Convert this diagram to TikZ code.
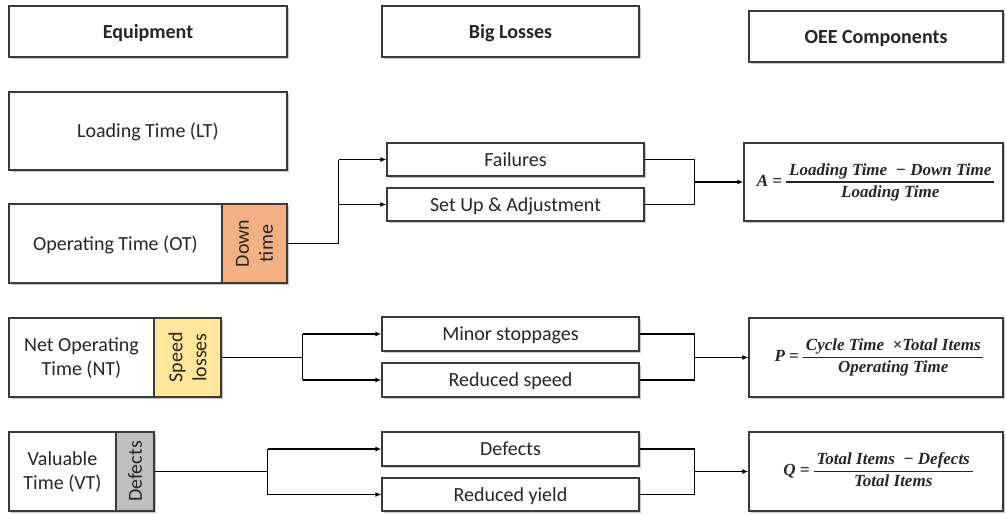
\documentclass[tikz,border=0pt]{standalone}
\usepackage{fontspec}
\setmainfont{Carlito}
\newfontfamily\eqfont{Liberation Serif}
\usetikzlibrary{arrows.meta,shadows}
\setlength{\arrayrulewidth}{1.1pt}

\definecolor{txt}{HTML}{262626}
\definecolor{edge}{HTML}{3A3A3A}
\definecolor{downfill}{HTML}{F4B183}
\definecolor{speedfill}{HTML}{FFE699}
\definecolor{defectfill}{HTML}{BFBFBF}

\begin{document}
\begin{tikzpicture}[x=1pt,y=-1pt,
  every node/.style={font=\fontsize{20}{24}\selectfont, text=txt},
  box/.style={draw=edge, line width=1.4pt, fill=white, inner sep=0pt, align=center,
    drop shadow={shadow xshift=1.8pt, shadow yshift=-1.8pt, opacity=0.22, fill=black}},
  size/.style 2 args={minimum width=#1pt, minimum height=#2pt},
  one/.style={text height=13pt, text depth=0pt},
  head/.style={box, one, font=\bfseries\fontsize{20}{24}\selectfont},
  vlabel/.style={rotate=90, align=center, inner sep=0pt},
  eq/.style={font=\eqfont\bfseries\itshape\fontsize{17}{21}\selectfont, inner sep=0pt},
  conn/.style={draw=black, line width=1.2pt},
  arr/.style={conn, -{Latex[length=6pt,width=5pt]}}
]
\useasboundingbox (0,0) rectangle (1006,514);

% column headers
\node[head, size={278}{51}] (hEq)  at (148,31.5)   {Equipment};
\node[head, size={257}{51}] (hBL)  at (510.5,31.5) {Big Losses};
\node[head, size={254}{51}] (hOEE) at (876,36.5)   {OEE Components};

% equipment time blocks
\node[box, one, size={278}{78}] (LT) at (148,131) {Loading Time (LT)};

\node[box, one, size={213}{79}] (OT) at (115.5,243.5) {Operating Time (OT)};
\node[box, fill=downfill, size={65}{79}] (DT) at (254.5,243.5) {};
\node[vlabel] (DTl) at (DT.center) {Down\\time};

\node[box, size={145}{79}] (NT) at (81.5,357.5) {Net Operating\\Time (NT)};
\node[box, fill=speedfill, size={67}{79}] (SL) at (187.5,357.5) {};
\node[vlabel] (SLl) at (SL.center) {Speed\\losses};

\node[box, size={107}{79}] (VT) at (62.5,471.5) {Valuable\\Time (VT)};
\node[box, fill=defectfill, size={38}{79}] (DF) at (135,471.5) {};
\node[vlabel] (DFl) at (DF.center) {Defects};

% big losses
\node[box, one, size={257}{33}] (Fail)  at (515.5,159.5) {Failures};
\node[box, one, size={257}{33}] (Setup) at (515.5,204.5) {Set Up \& Adjustment};
\node[box, one, size={257}{34}] (Minor) at (510.5,334)   {Minor stoppages};
\node[box, one, size={257}{34}] (RSp)   at (510.5,380)   {Reduced speed};
\node[box, one, size={257}{34}] (Def)   at (510.5,449)   {Defects};
\node[box, one, size={257}{33}] (RYl)   at (510.5,494.5) {Reduced yield};

% OEE components
\node[box, size={259}{78}] (A) at (873.5,182)   {};
\node[box, size={254}{79}] (P) at (876,357.5)   {};
\node[box, size={254}{79}] (Q) at (876,471.5)   {};

\node[eq] (Aeq) at ([xshift=2pt]A.center) {A = \begin{tabular}{@{\,}c@{\,}}Loading Time \ − Down Time\\\hline Loading Time\end{tabular}};
\node[eq] (Peq) at ([xshift=3pt]P.center) {P = \begin{tabular}{@{\,}c@{\,}}Cycle Time \ ×Total Items\\\hline Operating Time\end{tabular}};
\node[eq] (Qeq) at ([xshift=2pt]Q.center) {Q = \begin{tabular}{@{\,}c@{\,}}Total Items \ − Defects\\\hline Total Items\end{tabular}};

% availability branch
\draw[conn] (DT.east) -- ++(51,0) coordinate (sA) -- (sA |- Fail.west);
\draw[arr] (sA |- Fail.west) -- (Fail.west);
\draw[arr] (sA |- Setup.west) -- (Setup.west);
\draw[conn] (Fail.east) -- ++(50,0) coordinate (mA) -- (mA |- Setup.east) -- (Setup.east);
\draw[arr] (mA |- A.west) -- (A.west);

% performance branch
\draw[conn] (SL.east) -- ++(81,0) coordinate (sP);
\draw[conn] (sP |- Minor.west) -- (sP |- RSp.west);
\draw[arr] (sP |- Minor.west) -- (Minor.west);
\draw[arr] (sP |- RSp.west) -- (RSp.west);
\draw[conn] (Minor.east) -- ++(55,0) coordinate (mP) -- (mP |- RSp.east) -- (RSp.east);
\draw[arr] (mP |- P.west) -- (P.west);

% quality branch
\draw[conn] (DF.east) -- ++(113,0) coordinate (sQ);
\draw[conn] (sQ |- Def.west) -- (sQ |- RYl.west);
\draw[arr] (sQ |- Def.west) -- (Def.west);
\draw[arr] (sQ |- RYl.west) -- (RYl.west);
\draw[conn] (Def.east) -- ++(55,0) coordinate (mQ) -- (mQ |- RYl.east) -- (RYl.east);
\draw[arr] (mQ |- Q.west) -- (Q.west);
\end{tikzpicture}
\end{document}
